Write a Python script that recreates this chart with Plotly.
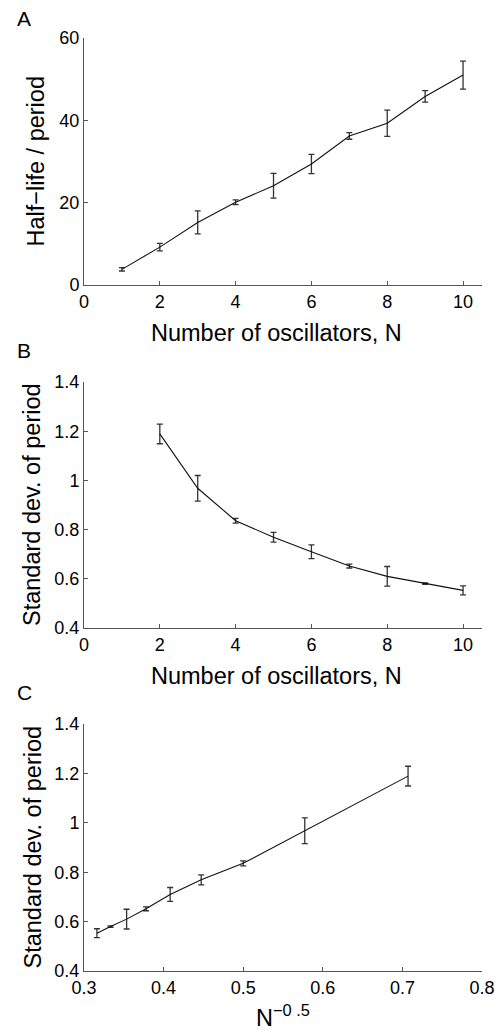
import numpy as np
import plotly.graph_objects as go

# Oscillator counts and measured quantities
n_osc = [1, 2, 3, 4, 5, 6, 7, 8, 9, 10]
half_life = [3.8, 9.2, 15.2, 20.1, 24.1, 29.4, 36.2, 39.3, 45.8, 51.0]
half_life_err = [0.4, 0.9, 2.8, 0.6, 3.0, 2.35, 0.8, 3.2, 1.4, 3.4]

n_sd = [2, 3, 4, 5, 6, 7, 8, 9, 10]
sd_period = [1.189, 0.968, 0.836, 0.769, 0.710, 0.652, 0.610, 0.580, 0.553]
sd_period_err = [0.040, 0.052, 0.010, 0.020, 0.028, 0.008, 0.040, 0.003, 0.018]

inv_sqrt_n = list(1.0 / np.sqrt(np.array(n_sd, dtype=float)))

W, H = 501, 1030
FONT = "Liberation Sans, Arial, Helvetica, sans-serif"
AXIS_COLOR = "#555555"


def py(px):
    """Convert a pixel row (from top) into paper y."""
    return 1 - px / H


def px_x(px):
    return px / W


x_dom = [px_x(84), px_x(482)]
panels = [
    dict(top=38, bottom=285),
    dict(top=382, bottom=628),
    dict(top=724, bottom=971),
]

fig = go.Figure()

series = [
    (n_osc, half_life, half_life_err),
    (n_sd, sd_period, sd_period_err),
    (inv_sqrt_n, sd_period, sd_period_err),
]

for i, (xs, ys, es) in enumerate(series):
    suffix = "" if i == 0 else str(i + 1)
    fig.add_trace(go.Scatter(
        x=xs, y=ys,
        mode="lines",
        line=dict(color="#111111", width=1.1),
        error_y=dict(type="data", array=es, visible=True,
                     color="#333333", thickness=1.3, width=3),
        xaxis="x" + suffix, yaxis="y" + suffix,
        showlegend=False, hoverinfo="x+y",
    ))

axis_common = dict(
    showline=True, linecolor=AXIS_COLOR, linewidth=1,
    ticks="inside", ticklen=4, tickcolor=AXIS_COLOR, tickwidth=1,
    showgrid=False, zeroline=False, mirror=False, automargin=False,
    tickfont=dict(family=FONT, size=18, color="#000000"),
)

x_specs = [
    dict(range=[0, 10.5], tickvals=[0, 2, 4, 6, 8, 10]),
    dict(range=[0, 10.5], tickvals=[0, 2, 4, 6, 8, 10]),
    dict(range=[0.3, 0.8], tickvals=[0.3, 0.4, 0.5, 0.6, 0.7, 0.8]),
]
y_specs = [
    dict(range=[0, 60], tickvals=[0, 20, 40, 60]),
    dict(range=[0.4, 1.4], tickvals=[0.4, 0.6, 0.8, 1.0, 1.2, 1.4]),
    dict(range=[0.4, 1.4], tickvals=[0.4, 0.6, 0.8, 1.0, 1.2, 1.4]),
]

layout = dict(
    width=W, height=H,
    margin=dict(l=0, r=0, t=0, b=0),
    paper_bgcolor="white", plot_bgcolor="white",
    font=dict(family=FONT, color="#000000"),
)

for i, p in enumerate(panels):
    suffix = "" if i == 0 else str(i + 1)
    layout["xaxis" + suffix] = dict(
        axis_common, domain=x_dom, anchor="y" + suffix, **x_specs[i])
    layout["yaxis" + suffix] = dict(
        axis_common, domain=[py(p["bottom"]), py(p["top"])],
        anchor="x" + suffix, **y_specs[i])

fig.update_layout(**layout)

TITLE_SIZE = 23.5
x_titles = ["Number of oscillators, N", "Number of oscillators, N",
            "N<sup>\u22120 .5</sup>"]
x_title_offsets = [48, 48, 45]
y_titles = ["Half\u2212life / period", "Standard dev. of period",
            "Standard dev. of period"]
letters = ["A", "B", "C"]
letter_rows = [18, 350, 692]

for i, p in enumerate(panels):
    fig.add_annotation(
        text=x_titles[i], xref="paper", yref="paper",
        x=px_x(276 if i < 2 else 283), y=py(p["bottom"] + x_title_offsets[i]),
        xanchor="center", yanchor="middle", showarrow=False,
        font=dict(family=FONT, size=TITLE_SIZE, color="#000000"),
    )
    fig.add_annotation(
        text=y_titles[i], xref="paper", yref="paper",
        x=px_x(35 if i == 0 else 32), y=py((p["top"] + p["bottom"]) / 2),
        xanchor="center", yanchor="middle", textangle=-90, showarrow=False,
        font=dict(family=FONT, size=TITLE_SIZE, color="#000000"),
    )
    fig.add_annotation(
        text=letters[i], xref="paper", yref="paper",
        x=px_x(24), y=py(letter_rows[i]),
        xanchor="center", yanchor="middle", showarrow=False,
        font=dict(family=FONT, size=21, color="#000000"),
    )

fig.write_html("out.html")
